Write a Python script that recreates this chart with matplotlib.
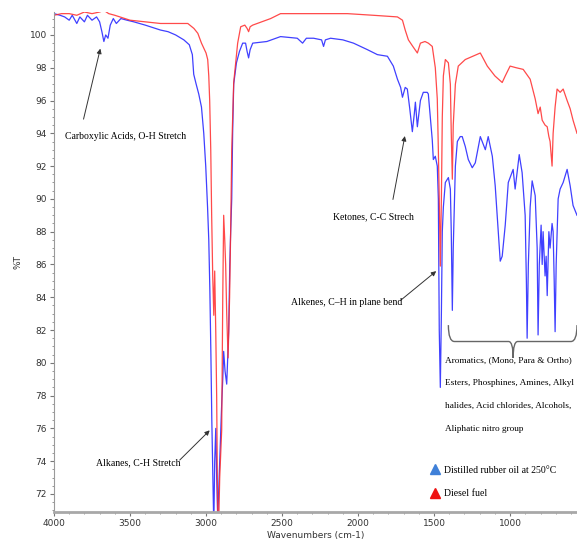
import matplotlib
matplotlib.use('Agg')
import matplotlib.pyplot as plt
from matplotlib.lines import Line2D
from matplotlib.path import Path
from matplotlib.patches import PathPatch
from matplotlib.ticker import MultipleLocator

# FTIR spectra
# distilled rubber oil at 250 C (blue)
oil_wn = [4000, 3960, 3930, 3900, 3880, 3850, 3830, 3800, 3780, 3750, 3720, 3700,
          3685, 3672, 3660, 3645, 3630, 3610, 3590, 3560, 3520, 3475, 3400, 3300,
          3250, 3200, 3146, 3110, 3090, 3081, 3065, 3048, 3030, 3015, 3002, 2990,
          2982, 2975, 2968, 2962, 2956, 2949, 2943, 2936, 2930, 2923, 2910, 2897,
          2890, 2884, 2875, 2864, 2857, 2851, 2844, 2838, 2831, 2825, 2818, 2800,
          2780, 2759, 2740, 2730, 2720, 2710, 2693, 2600, 2510, 2400, 2365, 2340,
          2293, 2240, 2227, 2215, 2181, 2100, 2030, 1938, 1873, 1807, 1768, 1741,
          1720, 1708, 1690, 1676, 1660, 1643, 1630, 1623, 1610, 1590, 1571, 1545,
          1538, 1525, 1512, 1505, 1492, 1479, 1472, 1466, 1459, 1452, 1446, 1439,
          1426, 1406, 1393, 1387, 1380, 1374, 1360, 1347, 1328, 1315, 1295, 1275,
          1249, 1229, 1196, 1163, 1144, 1117, 1098, 1078, 1065, 1052, 1032, 1012,
          980, 967, 940, 921, 901, 893, 888, 880, 868, 855, 835, 822, 816, 808,
          796, 789, 783, 770, 763, 756, 745, 737, 724, 717, 710, 704, 697, 684,
          671, 651, 625, 605, 586, 560]
oil_t = [101.3, 101.2, 101.1, 100.9, 101.2, 100.7, 101.1, 100.8, 101.2, 100.9, 101.1, 100.8,
         100.2, 99.6, 100.0, 99.8, 100.6, 101.0, 100.7, 101.0, 100.9, 100.8, 100.6, 100.3,
         100.2, 100.0, 99.7, 99.4, 98.8, 97.6, 97.0, 96.4, 95.6, 94.0, 92.0, 89.5,
         87.5, 84.5, 80.5, 76.5, 73.5, 70.0, 74.0, 76.0, 73.0, 70.5, 74.0, 77.5,
         79.0, 80.7, 79.5, 78.7, 80.5, 81.9, 85.9, 88.0, 90.0, 94.0, 97.0, 98.3,
         99.0, 99.5, 99.5, 99.0, 98.6, 99.1, 99.5, 99.6, 99.9, 99.8, 99.5, 99.8,
         99.8, 99.7, 99.3, 99.7, 99.8, 99.7, 99.5, 99.1, 98.8, 98.7, 98.1, 97.3,
         96.8, 96.2, 96.8, 96.7, 95.5, 94.1, 95.2, 95.9, 94.4, 96.0, 96.5, 96.5,
         96.4, 95.0, 93.6, 92.4, 92.6, 92.0, 90.0, 82.0, 78.5, 83.0, 88.0, 89.5,
         91.0, 91.3, 90.6, 88.0, 83.2, 87.0, 92.0, 93.5, 93.8, 93.8, 93.2, 92.4,
         91.9, 92.2, 93.8, 93.0, 93.8, 92.6, 90.8, 88.0, 86.2, 86.5, 88.4, 91.0,
         91.8, 90.6, 92.7, 91.6, 89.0, 85.0, 81.5, 86.0, 89.5, 91.1, 90.2, 87.0, 81.7, 86.0,
         88.4, 86.0, 88.0, 85.3, 86.5, 84.1, 88.0, 87.0, 88.5, 88.0, 85.0, 81.9, 86.0, 90.0,
         90.6, 91.0, 91.8, 90.8, 89.6, 89.0]

# diesel fuel (red)
diesel_wn = [4000, 3950, 3900, 3850, 3800, 3750, 3700, 3672, 3640, 3600, 3500, 3400,
             3300, 3200, 3120, 3080, 3054, 3030, 3000, 2989, 2982, 2976, 2969, 2963,
             2956, 2949, 2943, 2936, 2930, 2923, 2916, 2910, 2897, 2890, 2884, 2877,
             2871, 2864, 2855, 2845, 2838, 2831, 2818, 2792, 2772, 2745, 2730, 2720,
             2710, 2693, 2575, 2510, 2300, 2070, 1900, 1741, 1708, 1690, 1669, 1640,
             1610, 1590, 1560, 1538, 1512, 1492, 1479, 1472, 1466, 1459, 1452, 1446,
             1439, 1426, 1406, 1393, 1387, 1380, 1374, 1360, 1341, 1295, 1196, 1150,
             1100, 1052, 1032, 1000, 960, 914, 868, 835, 816, 802, 789, 770, 756,
             745, 737, 724, 717, 704, 691, 671, 651, 625, 605, 586, 560]
diesel_t = [101.2, 101.3, 101.3, 101.2, 101.4, 101.3, 101.4, 101.5, 101.3, 101.2, 100.9, 100.8,
            100.7, 100.7, 100.7, 100.4, 100.1, 99.5, 98.9, 98.5, 97.5, 96.0, 93.0, 89.0,
            85.3, 82.9, 85.6, 81.9, 77.9, 70.0, 70.5, 73.0, 75.9, 84.0, 89.0, 87.5,
            86.0, 83.0, 80.3, 84.0, 88.0, 93.0, 97.1, 99.5, 100.5, 100.6, 100.4, 100.2,
            100.5, 100.6, 101.0, 101.3, 101.3, 101.3, 101.2, 101.1, 100.9, 100.3, 99.7, 99.3,
            98.9, 99.5, 99.6, 99.5, 99.3, 98.0, 96.1, 93.0, 90.0, 85.9, 90.0, 95.0,
            97.5, 98.5, 98.3, 97.0, 94.0, 91.2, 94.5, 97.0, 98.1, 98.5, 98.9, 98.1,
            97.5, 97.1, 97.5, 98.1, 98.0, 97.9, 97.3, 96.1, 95.2, 95.6, 94.8, 94.5, 94.4,
            93.8, 93.5, 92.0, 94.0, 95.6, 96.7, 96.5, 96.7, 96.0, 95.5, 94.8, 94.0]

group_lines = ['Aromatics, (Mono, Para & Ortho)',
               'Esters, Phosphines, Amines, Alkyl',
               'halides, Acid chlorides, Alcohols,',
               'Aliphatic nitro group']

fig = plt.figure(figsize=(5.77, 5.49), dpi=100)
ax = fig.add_axes([54 / 577, 37 / 549, 523 / 577, 500 / 549])

ax.plot(oil_wn, oil_t, color='#2b2bff', lw=0.9, alpha=0.9)
ax.plot(diesel_wn, diesel_t, color='#ff2a2a', lw=0.9, alpha=0.85)

ax.set_xlim(4000, 560)
ax.set_ylim(70.9, 101.4)
ax.set_xticks([4000, 3500, 3000, 2500, 2000, 1500, 1000])
ax.xaxis.set_minor_locator(MultipleLocator(100))
ax.set_yticks(range(72, 101, 2))
ax.yaxis.set_minor_locator(MultipleLocator(0.5))

for s in ['top', 'right']:
    ax.spines[s].set_visible(False)
ax.spines['left'].set_color('#9a9a9a')
ax.spines['left'].set_linewidth(0.8)
ax.spines['bottom'].set_color('#a8a8a8')
ax.spines['bottom'].set_linewidth(2.0)
ax.tick_params(which='major', length=3, color='#777777', labelsize=6.5,
               labelcolor='#333333', pad=2)
ax.tick_params(which='minor', length=1.5, color='#888888')

ax.set_xlabel('Wavenumbers (cm-1)', fontsize=6.5, color='#333333', labelpad=2)
ax.set_ylabel('%T', fontsize=6.5, color='#333333', labelpad=5)

serif = {'family': 'Liberation Serif', 'size': 7}
small_serif = {'family': 'Liberation Serif', 'size': 6.7}
arrow = dict(arrowstyle='-|>', color='#333333', lw=0.7, mutation_scale=7)

ax.annotate('', xy=(3691, 99.33), xytext=(3810, 94.7), arrowprops=arrow)
ax.text(3928, 93.8, 'Carboxylic Acids, O-H Stretch', fontdict=serif, va='center')

ax.annotate('', xy=(1689, 94.0), xytext=(1774, 89.8), arrowprops=arrow)
ax.text(2168, 88.9, 'Ketones, C-C Strech', fontdict=serif, va='center')

ax.annotate('', xy=(2963, 76.0), xytext=(3186, 73.95), arrowprops=arrow)
ax.text(3724, 73.9, 'Alkanes, C-H Stretch', fontdict=serif, va='center')

ax.annotate('', xy=(1472, 85.7), xytext=(1735, 83.7), arrowprops=arrow)
ax.text(2444, 83.65, 'Alkenes, C–H in plane bend', fontdict=serif, va='center')

# curly brace over the fingerprint region
x0, x1, xm = 1406, 560, 980
yt, yh, yp = 82.3, 81.3, 80.3
verts = [(x0, yt), (x0, yh), (x0 - 40, yh), (xm + 30, yh), (xm, yh), (xm, yp),
         (xm, yh), (xm - 30, yh), (x1 + 40, yh), (x1, yh), (x1, yt)]
codes = [Path.MOVETO, Path.CURVE3, Path.CURVE3, Path.LINETO, Path.CURVE3, Path.CURVE3,
         Path.CURVE3, Path.CURVE3, Path.LINETO, Path.CURVE3, Path.CURVE3]
ax.add_patch(PathPatch(Path(verts, codes), fill=False, ec='#666666', lw=1.0, clip_on=False))

for i, line in enumerate(group_lines):
    ax.text(1426, 80.17 - i * 1.4, line, fontdict=small_serif, va='center', clip_on=False)

handles = [Line2D([], [], ls='none', marker='^', ms=7.5, color='#3f80d8'),
           Line2D([], [], ls='none', marker='^', ms=7.5, color='#ee1111')]
ax.legend(handles, ['Distilled rubber oil at 250\u00b0C', 'Diesel fuel'],
          loc='lower left', bbox_to_anchor=(0.70, 0.01), frameon=False,
          prop={'family': 'Liberation Serif', 'size': 7}, labelspacing=1.5,
          handletextpad=0.4, handlelength=1.2)

fig.savefig('out.png', dpi=100)
